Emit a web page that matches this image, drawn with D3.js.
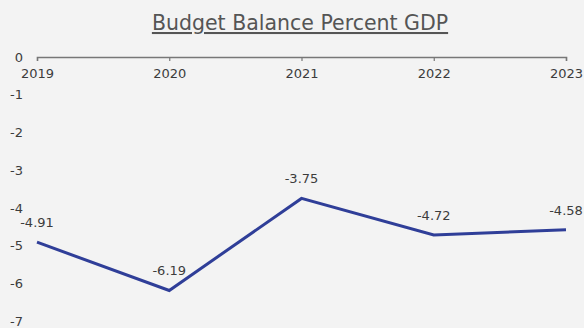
<!DOCTYPE html>
<html>
<head>
<meta charset="utf-8">
<script src="https://cdn.jsdelivr.net/npm/d3@7"></script>
<style>
  html, body { margin: 0; padding: 0; background: #f3f3f3; }
  svg { display: block; font-family: "DejaVu Sans", sans-serif; }
</style>
</head>
<body>
<svg id="chart" width="584" height="328"></svg>
<script>
// Budget balance as a percentage of GDP, by year
const years = ["2019", "2020", "2021", "2022", "2023"];
const balance = [-4.91, -6.19, -3.75, -4.72, -4.58];
const yTicks = [0, -1, -2, -3, -4, -5, -6, -7];

const FONT = '"DejaVu Sans", sans-serif';
const svg = d3.select("#chart");
const W = 584, H = 328;

svg.append("rect").attr("width", W).attr("height", H).attr("fill", "#f3f3f3");

const x = d3.scalePoint().domain(years).range([37, 566]);
const y = d3.scaleLinear().domain([0, -7]).range([57, 321]);

// plain hyphen for negative numbers
const fmtInt = d => String(d);
const fmt2 = d => d.toFixed(2);

// Title
svg.append("text")
  .attr("x", 300).attr("y", 30)
  .attr("text-anchor", "middle")
  .attr("font-size", 20.5)
  .attr("fill", "#555")
  .attr("font-family", FONT)
  .attr("text-decoration", "underline")
  .text("Budget Balance Percent GDP");

// Y axis labels only (no axis line)
const yAxis = svg.append("g")
  .attr("transform", "translate(23,0)")
  .call(d3.axisLeft(y).tickValues(yTicks).tickSize(0).tickPadding(0).tickFormat(fmtInt));
yAxis.select(".domain").remove();
yAxis.selectAll("text")
  .attr("font-size", 13)
  .attr("fill", "#3c3c3c")
  .attr("font-family", FONT);

// X axis along the zero line
const xAxis = svg.append("g")
  .attr("transform", `translate(0,${y(0)})`)
  .call(d3.axisBottom(x).tickSizeInner(4).tickSizeOuter(4).tickPadding(8));
xAxis.select(".domain").attr("stroke", "#777").attr("stroke-width", 1.5);
xAxis.selectAll(".tick line").attr("stroke", "#777").attr("stroke-width", 1.2);
xAxis.selectAll("text")
  .attr("font-size", 13)
  .attr("fill", "#3c3c3c")
  .attr("font-family", FONT);

// Line
const line = d3.line()
  .x((d, i) => x(years[i]))
  .y(d => y(d));

svg.append("path")
  .datum(balance)
  .attr("d", line)
  .attr("fill", "none")
  .attr("stroke", "#2f3e98")
  .attr("stroke-width", 3)
  .attr("stroke-linejoin", "miter");

// Value labels
svg.selectAll(".val")
  .data(balance)
  .enter().append("text")
  .attr("class", "val")
  .attr("x", (d, i) => x(years[i]))
  .attr("y", d => y(d) - 15)
  .attr("text-anchor", "middle")
  .attr("font-size", 13)
  .attr("fill", "#3c3c3c")
  .attr("font-family", FONT)
  .text(fmt2);
</script>
</body>
</html>
